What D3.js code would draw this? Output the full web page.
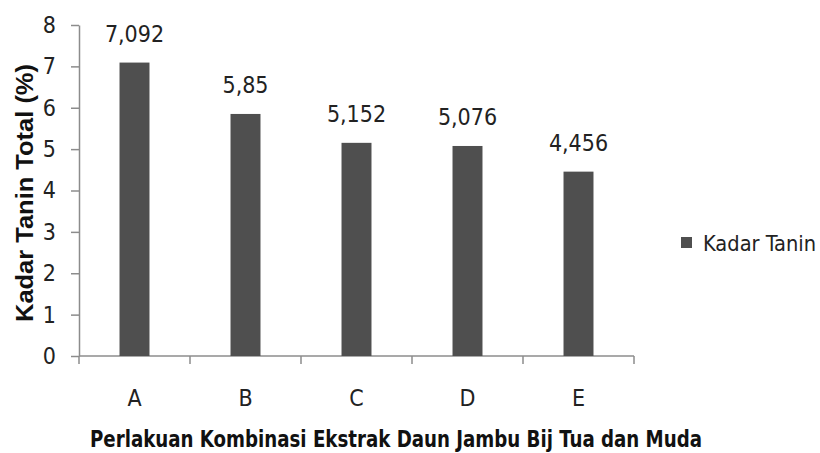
<!DOCTYPE html>
<html>
<head>
<meta charset="utf-8">
<script src="https://cdn.jsdelivr.net/npm/d3@7"></script>
<style>
    body { margin: 0; background: #fff; }
    .axis path, .axis line { stroke: #8c8c8c; stroke-width: 1.5; }
    .axis text { fill: #222; font-family: "Liberation Sans Narrow", "DejaVu Sans Condensed", "Open Sans", sans-serif; font-size: 23px; }
</style>
</head>
<body>
<div id="chart"></div>
<script>
// data
const categories = ["A", "B", "C", "D", "E"];
const kadarTanin = [7.092, 5.85, 5.152, 5.076, 4.456];
const valueLabels = ["7,092", "5,85", "5,152", "5,076", "4,456"];
const yTicks = [0, 1, 2, 3, 4, 5, 6, 7, 8];
const seriesName = "Kadar Tanin";
const yTitle = "Kadar Tanin Total (%)";
const xTitle = "Perlakuan Kombinasi Ekstrak Daun Jambu Bij Tua dan Muda";

const W = 820, H = 453;
const margin = { top: 25, right: 186, bottom: 97, left: 79 };
const width = W - margin.left - margin.right,
    height = H - margin.top - margin.bottom;
const narrow = "'Liberation Sans Narrow', 'DejaVu Sans Condensed', 'Open Sans', sans-serif";

const svg = d3
    .select("#chart")
    .append("svg")
    .attr("width", W)
    .attr("height", H)
    .append("g")
    .attr("transform", "translate(" + margin.left + "," + margin.top + ")");

// scales
let x = d3.scaleBand().domain(categories).range([0, width]).paddingInner(0.73).paddingOuter(0.365);
let xTickScale = d3.scaleBand().domain(categories).range([0, width]);
let y = d3.scaleLinear().domain([0, 8]).range([height, 0]);

// y axis
svg.append("g")
    .attr("class", "axis")
    .call(d3.axisLeft(y).tickValues(yTicks).tickSize(8).tickPadding(15).tickSizeOuter(0));

// x axis: ticks sit on band boundaries
const xAxis = svg.append("g")
    .attr("class", "axis")
    .attr("transform", "translate(0," + height + ")");
xAxis.append("line").attr("x1", 0).attr("x2", width).attr("y1", 0).attr("y2", 0);
xAxis.selectAll(".tk")
    .data(categories.concat(["end"]))
    .enter()
    .append("line")
    .attr("x1", (d, i) => i * xTickScale.step())
    .attr("x2", (d, i) => i * xTickScale.step())
    .attr("y1", 0)
    .attr("y2", 8);
xAxis.selectAll(".lbl")
    .data(categories)
    .enter()
    .append("text")
    .attr("x", (d) => xTickScale(d) + xTickScale.bandwidth() / 2)
    .attr("y", 50)
    .attr("text-anchor", "middle")
    .text((d) => d);

// bars
svg.selectAll(".bar")
    .data(kadarTanin)
    .enter()
    .append("rect")
    .attr("class", "bar")
    .attr("x", (d, i) => x(categories[i]))
    .attr("width", x.bandwidth())
    .attr("y", (d) => y(d))
    .attr("height", (d) => height - y(d))
    .style("fill", "#4f4f4f");

// value labels
svg.selectAll(".val")
    .data(kadarTanin)
    .enter()
    .append("text")
    .attr("x", (d, i) => x(categories[i]) + x.bandwidth() / 2)
    .attr("y", (d) => y(d) - 21)
    .attr("text-anchor", "middle")
    .style("font-family", narrow)
    .style("font-size", "23px")
    .style("fill", "#222")
    .text((d, i) => valueLabels[i]);

// y title
svg.append("text")
    .attr("transform", "translate(" + (-46) + "," + (193 - margin.top) + ") rotate(-90)")
    .attr("text-anchor", "middle")
    .style("font-family", "'Liberation Sans', Arial, sans-serif")
    .style("font-weight", "bold")
    .style("font-size", "23px")
    .style("fill", "#111")
    .attr("textLength", 258)
    .attr("lengthAdjust", "spacingAndGlyphs")
    .text(yTitle);

// x title
svg.append("text")
    .attr("x", 90 - margin.left)
    .attr("y", 447 - margin.top)
    .style("font-family", narrow)
    .style("font-weight", "bold")
    .style("font-size", "23px")
    .style("fill", "#111")
    .attr("textLength", 612)
    .attr("lengthAdjust", "spacingAndGlyphs")
    .text(xTitle);

// legend
const legend = svg.append("g").attr("transform", "translate(" + (681 - margin.left) + "," + (237 - margin.top) + ")");
legend.append("rect").attr("width", 11).attr("height", 11).style("fill", "#4f4f4f");
legend.append("text")
    .attr("x", 22)
    .attr("y", 14)
    .style("font-family", narrow)
    .style("font-size", "22px")
    .style("fill", "#222")
    .attr("textLength", 113)
    .attr("lengthAdjust", "spacingAndGlyphs")
    .text(seriesName);
</script>
</body>
</html>
